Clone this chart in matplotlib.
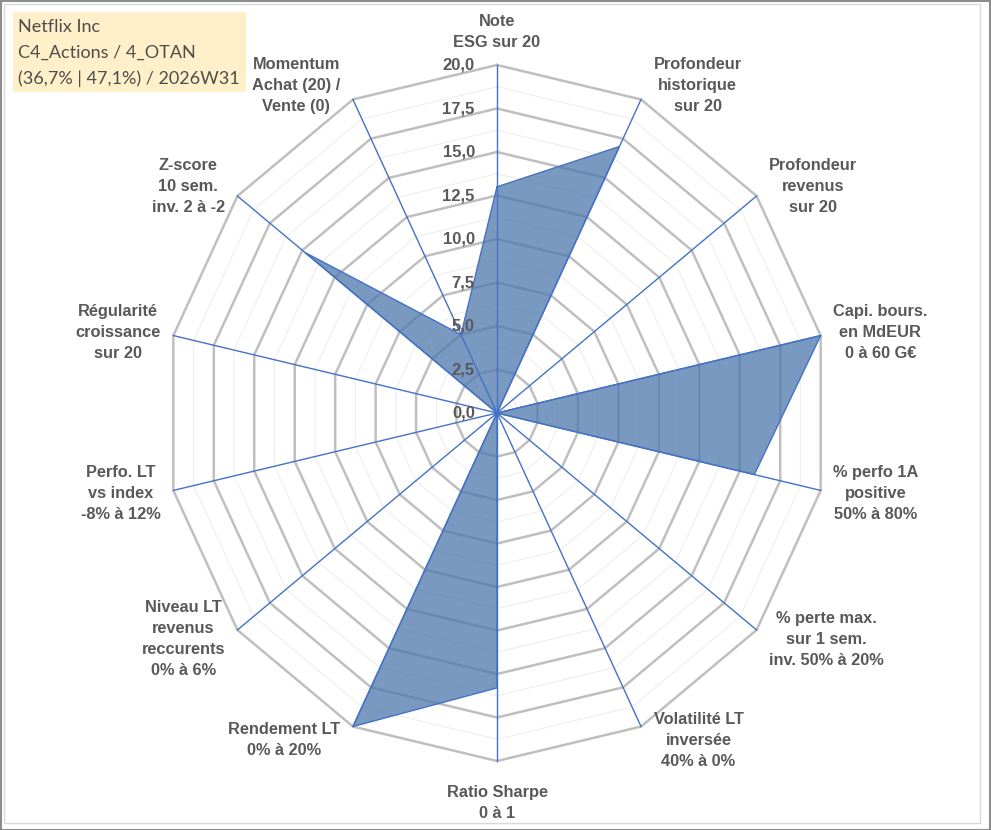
import numpy as np
import matplotlib.pyplot as plt
from matplotlib.patches import Rectangle

# -------------------------
# Data
# -------------------------
axis_labels = [
    "Note\nESG sur 20",
    "Profondeur\nhistorique\nsur 20",
    "Profondeur\nrevenus\nsur 20",
    "Capi. bours.\nen MdEUR\n0 à 60 G€",
    "% perfo 1A\npositive\n50% à 80%",
    "% perte max.\nsur 1 sem.\ninv. 50% à 20%",
    "Volatilité LT\ninversée\n40% à 0%",
    "Ratio Sharpe\n0 à 1",
    "Rendement LT\n0% à 20%",
    "Niveau LT\nrevenus\nreccurents\n0% à 6%",
    "Perfo. LT\nvs index\n-8% à 12%",
    "Régularité\ncroissance\nsur 20",
    "Z-score\n10 sem.\ninv. 2 à -2",
    "Momentum\nAchat (20) /\nVente (0)",
]
scores = [13.0, 17.0, 0.0, 20.0, 15.9, 0.0, 0.0, 15.8, 20.0, 0.0, 0.0, 0.0, 14.8, 5.0]
radial_ticks = [0.0, 2.5, 5.0, 7.5, 10.0, 12.5, 15.0, 17.5, 20.0]
title_lines = ["Netflix Inc", "C4_Actions / 4_OTAN", "(36,7% | 47,1%) / 2026W31"]

r_max = 20.0
minor_step = 1.25

# -------------------------
# Layout (pixels)
# -------------------------
W, H = 991, 830
cx, cy = 497, 413          # radar centre
px_x, px_y = 332 / r_max, 348 / r_max   # pixels per unit

text_col = "#595959"
bold_font = ["Liberation Sans", "DejaVu Sans"]

fig = plt.figure(figsize=(W / 100, H / 100), dpi=100)
ax = fig.add_axes([0, 0, 1, 1])
ax.set_xlim(-cx / px_x, (W - cx) / px_x)
ax.set_ylim(-(H - cy) / px_y, cy / px_y)
ax.axis("off")

n = len(scores)
theta = np.deg2rad(90 - np.arange(n) * 360 / n)
cos_t, sin_t = np.cos(theta), np.sin(theta)


def ring(r):
    xs = np.append(r * cos_t, r * cos_t[0])
    ys = np.append(r * sin_t, r * sin_t[0])
    return xs, ys


# grid rings
for r in np.arange(minor_step, r_max + 0.01, minor_step):
    xs, ys = ring(r)
    if abs(r / 2.5 - round(r / 2.5)) < 1e-6:
        ax.plot(xs, ys, color="#BFBFBF", lw=1.8, zorder=1, solid_joinstyle="miter")
    else:
        ax.plot(xs, ys, color="#EDEDED", lw=0.75, zorder=1)

# filled series
vals = np.array(scores)
fx = np.append(vals * cos_t, vals[0] * cos_t[0])
fy = np.append(vals * sin_t, vals[0] * sin_t[0])
ax.fill(fx, fy, color="#5079AE", alpha=0.76, lw=0, zorder=3)
ax.plot(fx, fy, color="#4472C4", lw=1.0, zorder=4)

# spokes
for c, s in zip(cos_t, sin_t):
    ax.plot([0, r_max * c], [0, r_max * s], color="#4472C4", lw=1.0, zorder=5)

# radial tick labels
for t in radial_ticks:
    ax.annotate(f"{t:.1f}".replace(".", ","), xy=(0, t), xytext=(-16, 0),
                textcoords="offset points", ha="right", va="center",
                fontsize=12, fontweight="bold", color=text_col,
                family=bold_font, zorder=6)

# category labels
for i, lab in enumerate(axis_labels):
    c, s = cos_t[i], sin_t[i]
    x, y = r_max * c, r_max * s
    if abs(c) < 1e-6:
        ha = "center"
        va = "bottom" if s > 0 else "top"
        off = (0, 11) if s > 0 else (0, -17)
    else:
        ha = "left" if c > 0 else "right"
        va = "center"
        off = (9 * np.sign(c), 11 * s)
    ax.annotate(lab, xy=(x, y), xytext=off, textcoords="offset points",
                ha=ha, va=va, multialignment="center", fontsize=11.8,
                fontweight="bold", color=text_col, family=bold_font,
                linespacing=1.5, zorder=6)

# title box
fig.patches.append(Rectangle((13 / W, 1 - 92 / H), 233 / W, 80 / H,
                             transform=fig.transFigure, facecolor="#FFF0C9",
                             edgecolor="none", zorder=0))
fig.text(18 / W, 1 - 19 / H, "\n".join(title_lines), ha="left", va="top",
         fontsize=13, color="#4D4D4D", family=["Lato", "DejaVu Sans"],
         linespacing=1.72)

# chart borders
fig.patches.append(Rectangle((4 / W, 1 - 823 / H), 976 / W, 819 / H,
                             transform=fig.transFigure, facecolor="none",
                             edgecolor="#D9D9D9", lw=1.0))
fig.patches.append(Rectangle((0.5 / W, 0.5 / H), 1 - 1.5 / W, 1 - 1.5 / H,
                             transform=fig.transFigure, facecolor="none",
                             edgecolor="#8C8C8C", lw=1.5))

fig.savefig("out.png", dpi=100, facecolor="white")
